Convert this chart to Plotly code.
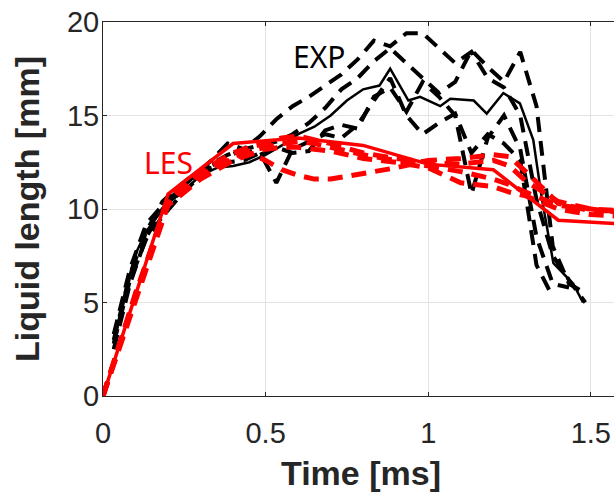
import plotly.graph_objects as go

# ---------------- data ----------------
t_les = [0, 0.2, 0.4, 0.6, 0.8, 1.0, 1.2, 1.4, 1.6]
les_mean = [0, 10.8, 13.5, 13.8, 13.4, 12.4, 12.1, 9.4, 9.2]

t_les_runs = [0, 0.1, 0.2, 0.3, 0.4, 0.45, 0.5, 0.55, 0.6, 0.65, 0.7, 0.8, 0.9, 1.0, 1.1, 1.2, 1.25, 1.3, 1.4, 1.5, 1.6]
les_run1 = [0, 5.3, 10.3, 11.8, 12.7, 13.0, 12.6, 12.1, 11.8, 11.6, 11.6, 11.9, 12.2, 12.6, 12.7, 12.9, 12.8, 12.0, 10.3, 9.9, 9.9]
les_run2 = [0, 5.5, 10.4, 11.9, 12.8, 13.1, 13.3, 13.5, 13.6, 13.5, 13.3, 12.9, 12.6, 12.3, 12.0, 11.6, 11.3, 10.9, 10.2, 10.0, 9.8]
les_run3 = [0, 5.2, 10.2, 11.6, 12.6, 12.9, 13.2, 13.3, 13.3, 13.2, 13.1, 12.7, 12.5, 12.2, 11.4, 11.2, 10.9, 10.7, 10.0, 9.7, 9.6]
les_run4 = [0, 5.4, 10.5, 12.0, 13.0, 13.3, 13.5, 13.8, 13.9, 13.7, 13.5, 13.0, 12.7, 12.5, 12.4, 12.6, 12.3, 11.5, 10.4, 10.0, 9.9]

t_exp_mean = [0.033, 0.067, 0.1, 0.133, 0.167, 0.2, 0.25, 0.3, 0.35, 0.4, 0.45, 0.5, 0.55, 0.6, 0.65, 0.7, 0.75, 0.8, 0.85, 0.883,
              0.939, 0.975, 1.037, 1.068, 1.14, 1.18, 1.231, 1.282, 1.323, 1.35, 1.385, 1.446, 1.476]
exp_mean = [2.9, 5.5, 7.6, 8.8, 9.6, 10.3, 11.0, 11.8, 12.2, 12.3, 12.5, 12.9, 13.4, 14.0, 14.4, 15.0, 15.8, 16.4, 16.6, 17.5,
            15.8, 16.0, 15.5, 15.9, 15.8, 15.1, 16.2, 15.65, 13.7, 10.5, 7.1, 6.0, 5.0]

t_exp_runs = [0.033, 0.083, 0.133, 0.183, 0.233, 0.283, 0.333, 0.383, 0.433, 0.483, 0.533, 0.583, 0.633, 0.683, 0.733,
              0.783, 0.833, 0.883, 0.933, 0.983, 1.033, 1.083, 1.133, 1.183, 1.233, 1.283, 1.333, 1.383, 1.433, 1.483]
exp_run1 = [2.5, 6.0, 8.5, 10.0, 10.8, 11.7, 12.3, 12.8, 13.2, 13.9, 14.8, 15.5, 16.0, 16.6, 17.2, 18.0, 19.0, 18.7, 19.4, 19.4,
            18.6, 17.8, 18.4, 17.0, 16.5, 15.0, 10.5, 7.5, 6.2, 5.0]
exp_run2 = [3.0, 6.5, 8.8, 10.4, 11.2, 11.9, 12.4, 12.9, 13.2, 13.4, 13.6, 14.0, 14.6, 15.4, 16.4, 17.0, 17.9, 18.6, 17.8, 17.0,
            16.2, 16.8, 18.5, 17.6, 16.8, 18.4, 15.5, 8.0, 6.0, 5.5]
exp_run3 = [2.8, 6.2, 8.4, 9.6, 10.6, 11.5, 12.2, 12.5, 12.6, 13.0, 11.4, 13.2, 13.6, 14.0, 13.8, 14.5, 15.8, 17.0, 15.0, 14.0,
            14.6, 15.1, 13.0, 14.0, 13.5, 12.6, 7.0, 5.3]
exp_run4 = [3.3, 6.8, 9.2, 10.2, 11.0, 11.8, 12.6, 13.5, 13.2, 12.9, 13.3, 13.0, 13.1, 14.2, 14.5, 14.3, 16.0, 16.5, 15.2, 16.8,
            16.0, 15.0, 10.8, 13.8, 15.0, 13.2, 8.5, 6.0, 5.8]

x_ticks = [0, 0.5, 1, 1.5]
x_tick_labels = ["0", "0.5", "1", "1.5"]
y_ticks = [0, 5, 10, 15, 20]
y_tick_labels = ["0", "5", "10", "15", "20"]

# ---------------- figure ----------------
fig = go.Figure()
DASH = "15px,9px"
for run in [exp_run1, exp_run2, exp_run3, exp_run4]:
    fig.add_trace(go.Scatter(x=t_exp_runs[:len(run)], y=run, mode="lines",
                             line=dict(color="black", width=4, dash=DASH), showlegend=False))
fig.add_trace(go.Scatter(x=t_exp_mean, y=exp_mean, mode="lines",
                         line=dict(color="black", width=2.5), showlegend=False))
for run in [les_run1, les_run2, les_run3, les_run4]:
    fig.add_trace(go.Scatter(x=t_les_runs, y=run, mode="lines",
                             line=dict(color="#ff0000", width=5, dash=DASH), showlegend=False))
fig.add_trace(go.Scatter(x=t_les, y=les_mean, mode="lines",
                         line=dict(color="#ff0000", width=3.5), showlegend=False))

tickfont = dict(family="Liberation Sans, Arial", size=29, color="#262626")
fig.update_xaxes(range=[0, 1.5713], tickvals=x_ticks, ticktext=x_tick_labels,
                 showgrid=True, gridcolor="#e3e3e3", gridwidth=1,
                 showline=True, linecolor="#262626", linewidth=1, mirror="ticks",
                 ticks="inside", ticklen=4, tickcolor="#262626", ticklabelstandoff=11,
                 tickfont=tickfont, zeroline=False)
fig.update_yaxes(range=[0, 20], tickvals=y_ticks, ticktext=y_tick_labels,
                 showgrid=True, gridcolor="#e3e3e3", gridwidth=1,
                 showline=True, linecolor="#262626", linewidth=1,
                 ticks="inside", ticklen=4, tickcolor="#262626", ticklabelstandoff=-3,
                 tickfont=tickfont, zeroline=False)

fig.add_annotation(text="<b>Time [ms]</b>", xref="paper", yref="paper",
                   x=(361 - 103) / 511, y=-(473 - 396) / 374, xanchor="center", yanchor="middle",
                   showarrow=False, font=dict(family="Liberation Sans, Arial", size=34, color="#262626"))
fig.add_annotation(text="<b>Liquid length [mm]</b>", xref="paper", yref="paper",
                   x=-(103 - 27) / 511, y=0.5, xanchor="center", yanchor="middle", textangle=-90,
                   showarrow=False, font=dict(family="Liberation Sans, Arial", size=34, color="#262626"))
fig.add_annotation(text="EXP", x=0.578, y=18.15, xanchor="left", yanchor="middle", showarrow=False,
                   font=dict(family="Noto Sans", size=30, color="black"))
fig.add_annotation(text="LES", x=0.12, y=12.5, xanchor="left", yanchor="middle", showarrow=False,
                   font=dict(family="Noto Sans", size=30, color="#ff0000"))

fig.update_layout(width=614, height=495, margin=dict(l=103, r=0, t=22, b=99),
                  paper_bgcolor="white", plot_bgcolor="white", showlegend=False)

fig.write_html("out.html")
